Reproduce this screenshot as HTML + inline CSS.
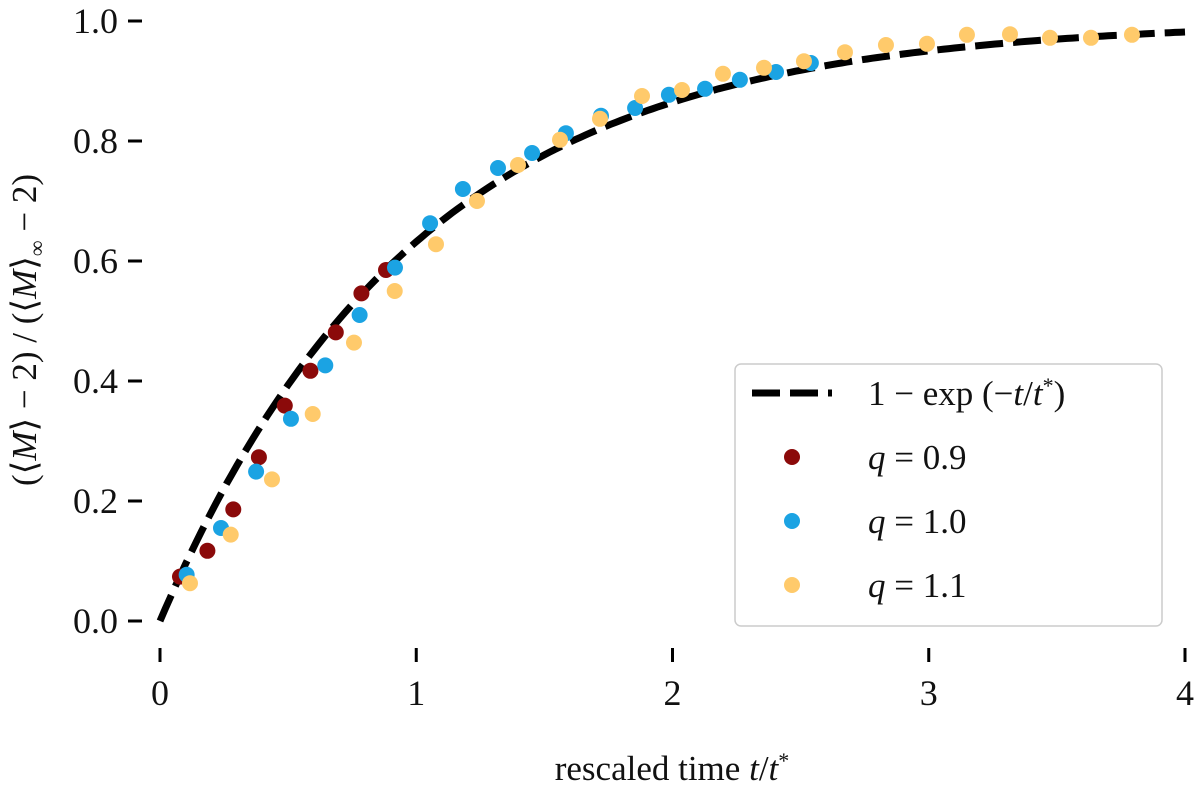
<!DOCTYPE html>
<html><head><meta charset="utf-8"><style>
body{margin:0;background:#fff}
svg text{font-family:"Liberation Serif","Times New Roman",serif;fill:#111}
</style></head><body>
<svg id="chart" width="1200" height="789" viewBox="0 0 1200 789" xmlns="http://www.w3.org/2000/svg">
<g id="axes"></g>
<g id="plot"></g>
<g id="legend">
<rect x="735" y="364" width="427" height="262" rx="6" fill="#fff" stroke="#ccc" stroke-width="1.5"/>
<line x1="752" y1="393" x2="832" y2="393" stroke="#000" stroke-width="7" stroke-dasharray="28,10"/>
<text x="868" y="405" font-size="35">1 − exp (−<tspan font-style="italic">t</tspan>/<tspan font-style="italic">t</tspan><tspan dy="-12" font-size="22">*</tspan><tspan dy="12">)</tspan></text>
<circle cx="792" cy="457" r="8" fill="#8b0a0a"/>
<text x="868" y="469" font-size="35"><tspan font-style="italic">q</tspan> = 0.9</text>
<circle cx="792" cy="521" r="8" fill="#1ba3e3"/>
<text x="868" y="533" font-size="35"><tspan font-style="italic">q</tspan> = 1.0</text>
<circle cx="792" cy="585" r="8" fill="#ffca6b"/>
<text x="868" y="597" font-size="35"><tspan font-style="italic">q</tspan> = 1.1</text>
</g>
<text x="672" y="780" font-size="35" text-anchor="middle">rescaled time <tspan font-style="italic">t</tspan>/<tspan font-style="italic">t</tspan><tspan dy="-12" font-size="22">*</tspan></text>
<text transform="translate(36,330) rotate(-90)" font-size="35" text-anchor="middle">(⟨<tspan font-style="italic">M</tspan>⟩ − 2) / (⟨<tspan font-style="italic">M</tspan>⟩<tspan dy="8" font-size="22">∞</tspan><tspan dy="-8"> − 2)</tspan></text>
</svg>
<script>
const xTicks=[0,1,2,3,4];
const yTicks=[0,0.2,0.4,0.6,0.8,1.0];
const q09X=[0.078,0.185,0.286,0.386,0.487,0.587,0.686,0.786,0.882];
const q09Y=[0.074,0.117,0.186,0.273,0.359,0.417,0.481,0.546,0.585];
const q10X=[0.104,0.238,0.375,0.511,0.645,0.779,0.917,1.054,1.182,1.319,1.452,1.584,1.721,1.854,1.986,2.127,2.263,2.404,2.54];
const q10Y=[0.077,0.155,0.249,0.337,0.426,0.51,0.589,0.663,0.72,0.755,0.78,0.813,0.842,0.855,0.877,0.887,0.902,0.915,0.93];
const q11X=[0.117,0.276,0.437,0.596,0.757,0.916,1.077,1.237,1.397,1.561,1.717,1.881,2.037,2.197,2.357,2.513,2.673,2.833,2.993,3.149,3.317,3.473,3.633,3.793];
const q11Y=[0.063,0.144,0.236,0.345,0.464,0.55,0.628,0.7,0.76,0.802,0.837,0.875,0.885,0.912,0.922,0.933,0.948,0.96,0.962,0.977,0.978,0.972,0.972,0.977];
const NS='http://www.w3.org/2000/svg';
const X=v=>160+v*256.25, Y=v=>621-v*600;
const axes=document.getElementById('axes'), plot=document.getElementById('plot');
function mk(tag,attrs,parent){const e=document.createElementNS(NS,tag);for(const k in attrs)e.setAttribute(k,attrs[k]);parent.appendChild(e);return e;}
xTicks.forEach(t=>{
 const l=mk('line',{x1:X(t),x2:X(t),y1:648,y2:662,stroke:'#000','stroke-width':3},axes);
 
 
 const tx=mk('text',{x:X(t),y:705,'font-size':36,'text-anchor':'middle'},axes);tx.textContent=t;
 
 
});
yTicks.forEach(t=>{
 const l=mk('line',{x1:128,x2:142,y1:Y(t),y2:Y(t),stroke:'#000','stroke-width':3},axes);
 
 
 const tx=mk('text',{x:118,y:Y(t)+12,'font-size':36,'text-anchor':'end'},axes);tx.textContent=t.toFixed(1);
 
 
});
let d='';for(let i=0;i<=200;i++){const t=4*i/200;d+=(i?'L':'M')+X(t).toFixed(1)+','+Y(1-Math.exp(-t)).toFixed(1);}
const p=mk('path',{d:d,fill:'none',stroke:'#000','stroke-width':7,'stroke-dasharray':'28,10'},plot);


function series(xs,ys,color,name){xs.forEach((x,i)=>{const c=mk('circle',{cx:X(x),cy:Y(ys[i]),r:8,fill:color},plot);
 
 });}
series(q09X,q09Y,'#8b0a0a','point-q09');
series(q10X,q10Y,'#1ba3e3','point-q10');
series(q11X,q11Y,'#ffca6b','point-q11');
</script>
</body></html>
